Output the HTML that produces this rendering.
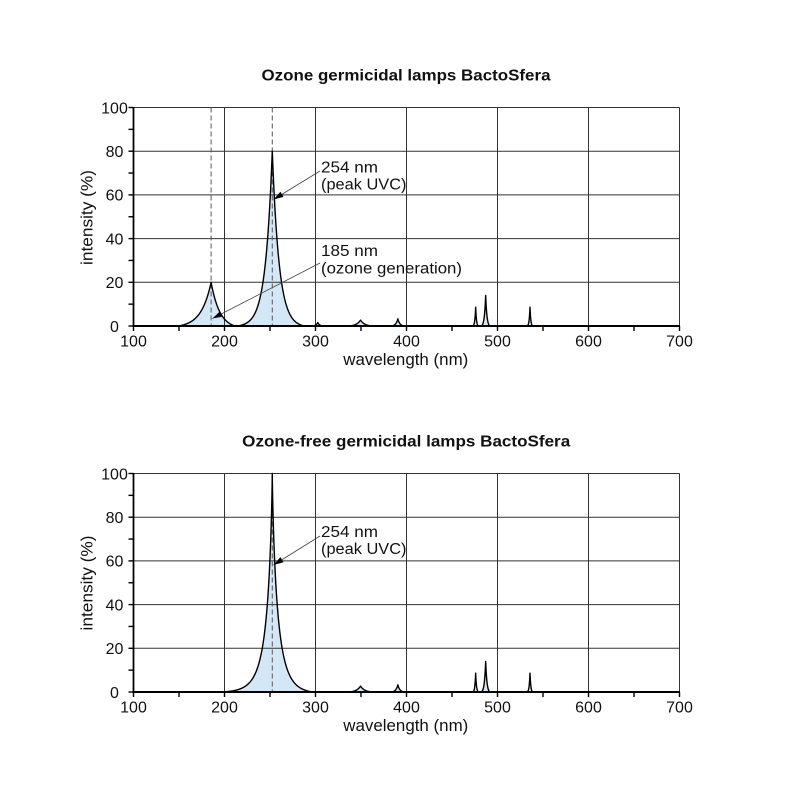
<!DOCTYPE html>
<html><head><meta charset="utf-8"><style>
html,body{margin:0;padding:0;background:#fff;}
svg{display:block;}
text{font-family:"Liberation Sans",Arial,sans-serif;fill:#111;}
</style></head><body>
<svg id="s" width="800" height="800" viewBox="0 0 800 800" xmlns="http://www.w3.org/2000/svg">
<defs>
<marker id="ah" markerUnits="userSpaceOnUse" markerWidth="10" markerHeight="6" refX="10" refY="3" orient="auto" viewBox="0 0 10 6">
<path d="M0,0 L10,3 L0,6 Z" fill="#000"/>
</marker>
</defs>
<rect width="800" height="800" fill="#fff"/>
<g id="g1"></g>
<g id="g2"></g>

<!-- Titles -->
<text x="406" y="80.5" font-size="16" font-weight="bold" text-anchor="middle" textLength="289" lengthAdjust="spacingAndGlyphs">Ozone germicidal lamps BactoSfera</text>
<text x="406.2" y="446.5" font-size="16" font-weight="bold" text-anchor="middle" textLength="328" lengthAdjust="spacingAndGlyphs">Ozone-free germicidal lamps BactoSfera</text>

<!-- Plot 1 tick labels -->
<g font-size="16" text-anchor="middle">
<text x="133.5" y="346.5">100</text><text x="224.5" y="346.5">200</text><text x="315.5" y="346.5">300</text><text x="406.5" y="346.5">400</text><text x="497.5" y="346.5">500</text><text x="588.5" y="346.5">600</text><text x="679.5" y="346.5">700</text>
<text x="114.5" y="331.8">0</text><text x="114.5" y="288.1">20</text><text x="114.5" y="244.4">40</text><text x="114.5" y="200.7">60</text><text x="114.5" y="157">80</text><text x="114.5" y="113.3">100</text>
</g>
<text x="405.8" y="365" font-size="16.5" text-anchor="middle" textLength="125" lengthAdjust="spacingAndGlyphs">wavelength (nm)</text>
<text transform="translate(92.5,217.5) rotate(-90)" x="0" y="0" font-size="16.5" text-anchor="middle" textLength="95" lengthAdjust="spacingAndGlyphs">intensity (%)</text>
<g font-size="15.5">
<text x="321" y="172.5" textLength="57" lengthAdjust="spacingAndGlyphs">254 nm</text>
<text x="321" y="189.5" textLength="85.5" lengthAdjust="spacingAndGlyphs">(peak UVC)</text>
<text x="321" y="256" textLength="57" lengthAdjust="spacingAndGlyphs">185 nm</text>
<text x="321" y="273.5" textLength="141" lengthAdjust="spacingAndGlyphs">(ozone generation)</text>
</g>

<!-- Plot 2 tick labels -->
<g font-size="16" text-anchor="middle">
<text x="133.5" y="712.5">100</text><text x="224.5" y="712.5">200</text><text x="315.5" y="712.5">300</text><text x="406.5" y="712.5">400</text><text x="497.5" y="712.5">500</text><text x="588.5" y="712.5">600</text><text x="679.5" y="712.5">700</text>
<text x="114.5" y="697.8">0</text><text x="114.5" y="654.1">20</text><text x="114.5" y="610.4">40</text><text x="114.5" y="566.7">60</text><text x="114.5" y="523">80</text><text x="114.5" y="479.3">100</text>
</g>
<text x="405.8" y="731" font-size="16.5" text-anchor="middle" textLength="125" lengthAdjust="spacingAndGlyphs">wavelength (nm)</text>
<text transform="translate(92.5,583) rotate(-90)" x="0" y="0" font-size="16.5" text-anchor="middle" textLength="95" lengthAdjust="spacingAndGlyphs">intensity (%)</text>
<g font-size="15.5">
<text x="321" y="537" textLength="57" lengthAdjust="spacingAndGlyphs">254 nm</text>
<text x="321" y="554" textLength="85.5" lengthAdjust="spacingAndGlyphs">(peak UVC)</text>
</g>
</svg>
<script>
(function(){
var NS="http://www.w3.org/2000/svg";
function el(parent,tag,attrs){var e=document.createElementNS(NS,tag);for(var k in attrs)e.setAttribute(k,attrs[k]);parent.appendChild(e);return e;}
function X(nm){return 133.5+(nm-100)*0.91;}
function pk(x,o){var d=x-o.x0;var s=d<0?o.sl:o.sr;var L=d<0?o.Ll:o.Lr;var a=Math.abs(d);if(a>=L)return 0;var p=o.p||1;var f=Math.exp(-Math.pow(a/s,p));var fL=Math.exp(-Math.pow(L/s,p));return o.A*(f-fL)/(1-fL);}
function P(x0,A,sl,sr,Ll,Lr,p){return {x0:x0,A:A,sl:sl,sr:sr,Ll:Ll,Lr:Lr,p:p||1};}
var small=[P(349.5,2.7,4.5,4.5,13,13),P(390.5,3.3,2.2,2.2,7,7),P(476,8.6,0.9,0.9,3,3),P(487,14,1.4,1.4,4.5,4.5),P(535.7,8.6,0.9,0.9,3,3)];
var peaks1=[P(185.3,20,11,9.5,36,26),P(252.5,80,7.5,7.5,38,35),P(302.5,1.6,2,2,6,6)].concat(small);
var peaks2=[P(252.5,100,6.14,6.14,55,44,0.8)].concat(small);
function build(g,y0,peaks,dashes,arrows){
  function Y(v){return y0-v*2.185;}
  var top=Y(100);
  // curve
  var pts=[];
  for(var i=0;i<=6000;i++){var x=100+i*0.1;var v=0;for(var j=0;j<peaks.length;j++)v+=pk(x,peaks[j]);pts.push(X(x).toFixed(2)+","+Y(v).toFixed(2));}
  var line="M"+pts.join(" L");
  el(g,"path",{d:line+" L"+X(700)+","+y0+" L"+X(100)+","+y0+" Z",fill:"#d4e7f7",stroke:"none"});
  // grid
  for(var v=20;v<=100;v+=20){el(g,"line",{x1:133.5,x2:679.5,y1:Y(v),y2:Y(v),stroke:"#333","stroke-width":1});}
  for(var n=200;n<=700;n+=100){el(g,"line",{x1:X(n),x2:X(n),y1:top,y2:y0+4.5,stroke:"#333","stroke-width":1});}
  // dashed
  dashes.forEach(function(n){el(g,"line",{x1:X(n),x2:X(n),y1:top,y2:y0,stroke:"#555","stroke-width":1,"stroke-dasharray":"5,3"});});
  // curve stroke
  el(g,"path",{d:line,fill:"none",stroke:"#000","stroke-width":1.4,"stroke-linejoin":"round"});
  // ticks
  for(var n=100;n<=700;n+=50){el(g,"line",{x1:X(n),x2:X(n),y1:y0,y2:y0+5,stroke:"#000","stroke-width":1.4});}
  for(var v=0;v<=100;v+=10){el(g,"line",{x1:128.5,x2:133.5,y1:Y(v),y2:Y(v),stroke:"#000","stroke-width":1.4});}
  // axes
  el(g,"line",{x1:133.5,x2:133.5,y1:top-0.5,y2:y0+1,stroke:"#000","stroke-width":1.8});
  el(g,"line",{x1:132.5,x2:680,y1:y0,y2:y0,stroke:"#000","stroke-width":2});
  // arrows
  arrows.forEach(function(a){el(g,"line",{x1:a[0],y1:a[1],x2:a[2],y2:a[3],stroke:"#444","stroke-width":0.8,"marker-end":"url(#ah)"});});
}
build(document.getElementById("g1"),326,peaks1,[185.3,252.5],[[320,171,273.5,199.5],[320,263,212.5,318.5]]);
build(document.getElementById("g2"),692,peaks2,[252.5],[[320,536,273.5,565]]);
})();
</script>
</body></html>
